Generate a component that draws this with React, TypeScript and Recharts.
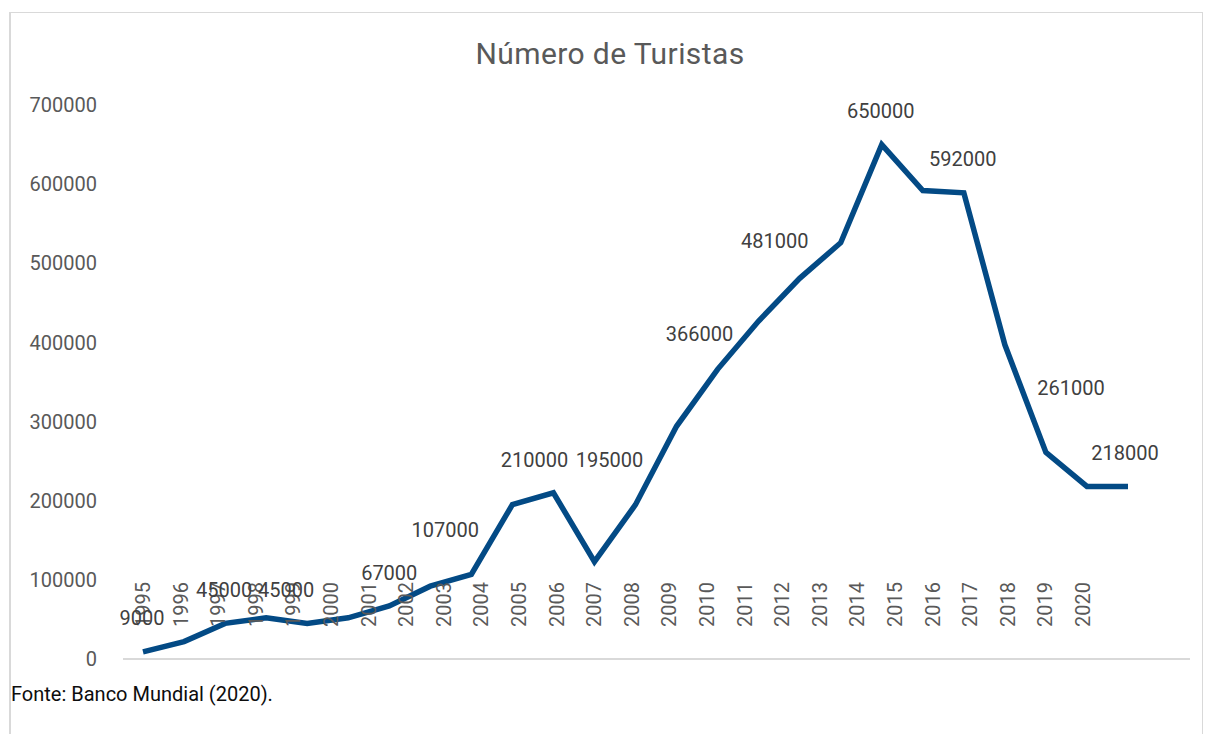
import React from "react";
import { LineChart, Line, XAxis, YAxis, LabelList } from "recharts";

// year labels on the category axis (26 of them, as printed)
const years = [
  1995, 1996, 1997, 1998, 1999, 2000, 2001, 2002, 2003, 2004, 2005, 2006, 2007,
  2008, 2009, 2010, 2011, 2012, 2013, 2014, 2015, 2016, 2017, 2018, 2019, 2020,
];

// the plotted series has 25 points, which don't line up with the year labels
const tourists = [
  9000, 22000, 45000, 52000, 45000, 52000, 67000, 92000, 107000, 195000, 210000,
  123000, 195000, 294000, 366000, 427000, 481000, 526000, 650000, 592000,
  589000, 397000, 261000, 218000, 218000,
];

// data labels shown on the chart (null = no label for that point)
const dataLabels: (string | null)[] = [
  "9000", null, "45000", null, "45000", null, "67000", null, "107000", null,
  "210000", null, "195000", null, "366000", null, "481000", null, "650000",
  "592000", null, null, "261000", null, "218000",
];

const yTicks = [0, 100000, 200000, 300000, 400000, 500000, 600000, 700000];

// manual placement of each data label relative to its point [dx, dy]
const labelOffsets: Record<number, [number, number]> = {
  0: [-1, -34],
  2: [-1, -33],
  4: [-21, -33],
  6: [0, -33],
  8: [-26, -44],
  10: [-19, -33],
  12: [-26, -45],
  14: [-18, -35],
  16: [-25, -37],
  18: [-1, -34],
  19: [40, -31],
  22: [25, -64],
  24: [-3, -33],
};

const data = tourists.map((v, i) => ({ i, turistas: v }));

const FONT = "Roboto, 'DejaVu Sans', sans-serif";

const YearTick = ({ x, y, payload }: any) => (
  <text
    transform={`translate(${x + 7},${y - 32}) rotate(-90)`}
    textAnchor="start"
    fill="#595959"
    fontSize={20}
    fontFamily={FONT}
  >
    {payload.value}
  </text>
);

const renderLabel = (props: any) => {
  const { x, y, index } = props;
  const text = dataLabels[index];
  if (!text) return null;
  const [dx, dy] = labelOffsets[index] || [0, -33];
  return (
    <text
      key={`lbl-${index}`}
      x={x + dx}
      y={y + dy}
      textAnchor="middle"
      dominantBaseline="central"
      fill="#404040"
      fontSize={20}
      fontFamily={FONT}
    >
      {text}
    </text>
  );
};

export default function App() {
  return (
    <div
      style={{
        position: "absolute",
        left: 0,
        top: 0,
        width: 1206,
        height: 734,
        background: "#ffffff",
        fontFamily: FONT,
        overflow: "hidden",
      }}
    >
      {/* frame lines */}
      <div style={{ position: "absolute", left: 9, top: 12, width: 2, height: 722, background: "#d9d9d9" }} />
      <div style={{ position: "absolute", left: 9, top: 12, width: 1194, height: 1, background: "#d9d9d9" }} />
      <div style={{ position: "absolute", left: 1202, top: 12, width: 1, height: 722, background: "#d9d9d9" }} />

      <div
        style={{
          position: "absolute",
          left: 0,
          top: 39,
          width: 1220,
          textAlign: "center",
          fontSize: 30,
          lineHeight: "30px",
          letterSpacing: 0.4,
          color: "#595959",
        }}
      >
        Número de Turistas
      </div>

      <div style={{ position: "absolute", left: 0, top: 0 }}>
        <LineChart
          width={1206}
          height={734}
          data={data}
          margin={{ top: 105, right: 16, bottom: 70, left: 0 }}
        >
          <YAxis
            width={123}
            domain={[0, 700000]}
            ticks={yTicks}
            axisLine={false}
            tickLine={false}
            tickSize={0}
            tickMargin={26}
            tick={{ fill: "#595959", fontSize: 20, fontFamily: FONT }}
            interval={0}
          />
          <XAxis
            xAxisId="idx"
            dataKey="i"
            type="number"
            domain={[0, tourists.length - 1]}
            padding={{ left: 20, right: 62 }}
            height={0}
            hide
          />
          <XAxis
            xAxisId="year"
            dataKey="year"
            type="number"
            domain={[years[0], years[years.length - 1]]}
            allowDataOverflow
            ticks={years}
            interval={0}
            padding={{ left: 20, right: 107 }}
            height={5}
            tickSize={0}
            tickMargin={0}
            axisLine={{ stroke: "#d9d9d9", strokeWidth: 2 }}
            tickLine={false}
            tick={<YearTick />}
          />
          <Line
            xAxisId="idx"
            type="linear"
            dataKey="turistas"
            stroke="#034a85"
            strokeWidth={5.5}
            strokeLinejoin="miter"
            dot={false}
            activeDot={false}
            isAnimationActive={false}
          >
            <LabelList dataKey="turistas" content={renderLabel} />
          </Line>
        </LineChart>
      </div>

      <div
        style={{
          position: "absolute",
          left: 11,
          top: 684,
          fontSize: 20,
          lineHeight: "20px",
          color: "#0d0d0d",
          whiteSpace: "nowrap",
        }}
      >
        Fonte: Banco Mundial (2020).
      </div>
    </div>
  );
}
